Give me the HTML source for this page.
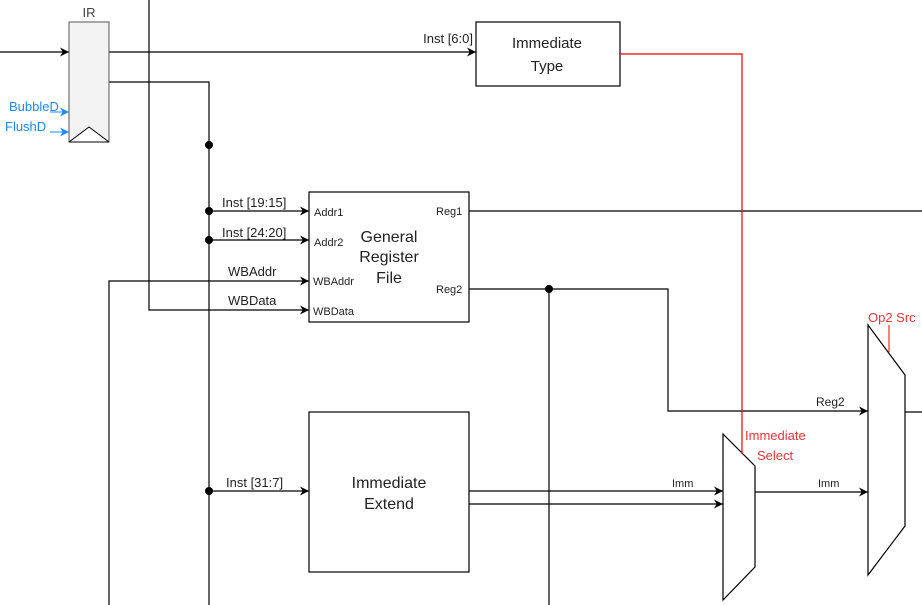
<!DOCTYPE html>
<html><head><meta charset="utf-8"><style>
body{margin:0;background:#fff}
svg{display:block;font-family:"Liberation Sans",sans-serif}
</style></head><body>
<svg width="922" height="605" viewBox="0 0 922 605" xmlns="http://www.w3.org/2000/svg">
<defs>
<marker id="a" viewBox="0 0 10 10" refX="10" refY="5" markerWidth="9" markerHeight="9" orient="auto" markerUnits="userSpaceOnUse"><path d="M0,0 L10,5 L0,10 L3,5 z" fill="#000"/></marker>
<marker id="b" viewBox="0 0 10 10" refX="10" refY="5" markerWidth="9" markerHeight="9" orient="auto" markerUnits="userSpaceOnUse"><path d="M0,0 L10,5 L0,10 L3,5 z" fill="#1a8cff"/></marker>
</defs>
<g fill="none" stroke="#000" stroke-width="1.2">
<line x1="0" y1="52" x2="69" y2="52" marker-end="url(#a)"/>
<line x1="109" y1="52" x2="476" y2="52" marker-end="url(#a)"/>
<polyline points="149,0 149,310 309,310" marker-end="url(#a)"/>
<polyline points="109,82 209,82 209,605"/>
<line x1="209" y1="211" x2="309" y2="211" marker-end="url(#a)"/>
<line x1="209" y1="240" x2="309" y2="240" marker-end="url(#a)"/>
<line x1="209" y1="491" x2="309" y2="491" marker-end="url(#a)"/>
<polyline points="109,605 109,281 309,281" marker-end="url(#a)"/>
<line x1="469" y1="211" x2="922" y2="211"/>
<polyline points="469,289 668,289 668,411 868,411" marker-end="url(#a)"/>
<line x1="549" y1="289" x2="549" y2="605"/>
<line x1="469" y1="491" x2="723" y2="491" marker-end="url(#a)"/>
<line x1="469" y1="504" x2="723" y2="504" marker-end="url(#a)"/>
<line x1="755" y1="492" x2="868" y2="492" marker-end="url(#a)"/>
<line x1="905" y1="412" x2="922" y2="412"/>
<rect x="309" y="192" width="160" height="130"/>
<rect x="309" y="412" width="160" height="160"/>
<rect x="476" y="22" width="144" height="64"/>
<polygon points="723,434 755,466 755,567 723,600"/>
<polygon points="868,325 905,375 905,526 868,575"/>
</g>
<rect x="69" y="22" width="40" height="120" fill="#f3f3f3" stroke="#555" stroke-width="1"/>
<polyline points="69,142 89,127 109,142" fill="#fff" stroke="#000"/>
<line x1="69" y1="142" x2="109" y2="142" stroke="#000"/>
<line x1="50" y1="112" x2="69" y2="112" stroke="#1a8cff" marker-end="url(#b)"/>
<line x1="50" y1="132" x2="69" y2="132" stroke="#1a8cff" marker-end="url(#b)"/>
<g fill="#000"><circle cx="209" cy="145" r="4"/><circle cx="209" cy="211" r="4"/><circle cx="209" cy="240" r="4"/><circle cx="209" cy="491" r="4"/><circle cx="549" cy="289" r="4"/></g>
<polyline points="620,54 742,54 742,454" fill="none" stroke="#e00" stroke-width="1.2"/>
<line x1="889" y1="325" x2="889" y2="352" stroke="#e00"/>
<g font-size="13" fill="#222">
<text x="89" y="17" text-anchor="middle" font-size="13" fill="#444">IR</text>
<text x="473" y="43" text-anchor="end">Inst [6:0]</text>
<text x="222" y="207">Inst [19:15]</text>
<text x="222" y="237">Inst [24:20]</text>
<text x="228" y="276">WBAddr</text>
<text x="228" y="305">WBData</text>
<text x="226" y="487">Inst [31:7]</text>
<text x="314" y="216" font-size="11">Addr1</text>
<text x="314" y="246" font-size="11">Addr2</text>
<text x="313" y="285" font-size="11">WBAddr</text>
<text x="313" y="315" font-size="11">WBData</text>
<text x="436" y="215" font-size="11">Reg1</text>
<text x="436" y="293" font-size="11">Reg2</text>
<text x="816" y="406" font-size="12">Reg2</text>
<text x="672" y="487" font-size="11">Imm</text>
<text x="818" y="487" font-size="11">Imm</text>
</g>
<g font-size="16" fill="#222" text-anchor="middle">
<text x="389" y="242">General</text><text x="389" y="262">Register</text><text x="389" y="283">File</text>
<text x="389" y="488">Immediate</text><text x="389" y="509">Extend</text>
<text x="547" y="48" font-size="15">Immediate</text><text x="547" y="71" font-size="15">Type</text>
</g>
<g font-size="13" fill="#e33">
<text x="745" y="440">Immediate</text><text x="757" y="460">Select</text>
<text x="868" y="322">Op2 Src</text>
</g>
<g font-size="13" fill="#1a8cff">
<text x="9" y="111">BubbleD</text><text x="5" y="131">FlushD</text>
</g>
</svg>
</body></html>
